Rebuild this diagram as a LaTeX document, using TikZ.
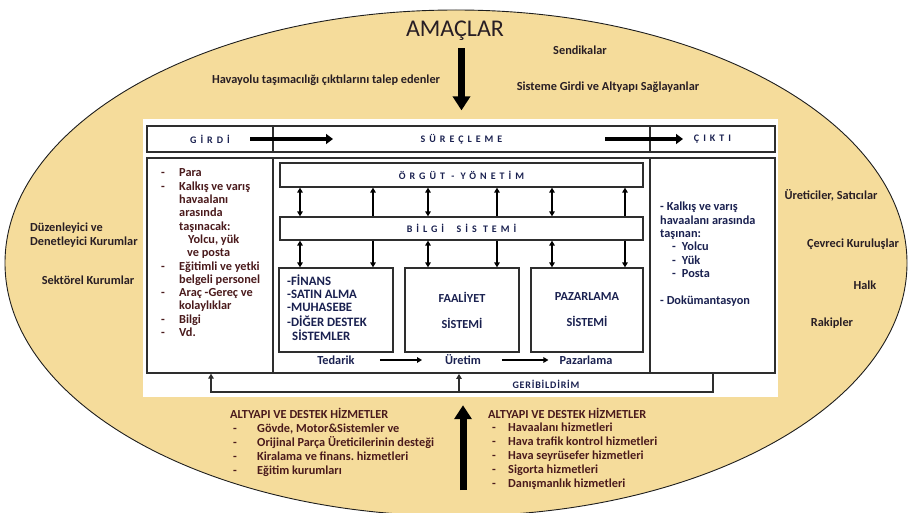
\documentclass[tikz,border=0pt]{standalone}
\usepackage{fontspec}
\setmainfont{Carlito}
\newfontfamily\trackfont{Carlito}[LetterSpace=40]
\newfontfamily\lighttrack{Carlito}[LetterSpace=8]
\usetikzlibrary{arrows.meta}

\definecolor{sand}{HTML}{F5DC9B}
\definecolor{rim}{HTML}{1E1E1E}
\definecolor{boxline}{HTML}{2E2E2E}
\definecolor{inkred}{HTML}{4A1A1C}
\definecolor{inkblue}{HTML}{1A2150}
\definecolor{inkdark}{HTML}{281E24}

\newcommand{\listfont}{\fontsize{12.3}{13.3}\selectfont\bfseries}
\newcommand{\titlefont}{\trackfont\fontsize{10}{12}\selectfont\bfseries}

\tikzset{
  ground/.style={fill=sand, draw=rim, line width=0.9pt},
  panel/.style={fill=white, draw=none, inner sep=0pt},
  cell/.style={draw=boxline, line width=1.2pt, inner sep=0pt},
  bigcell/.style={draw=boxline, line width=1.8pt, inner sep=0pt},
  unitbox/.style={draw=boxline, line width=1.2pt, fill=white, inner sep=0pt,
    minimum width=114pt, minimum height=84pt},
  plain/.style={inner sep=0pt, font=\listfont},
  flowarrow/.style={line width=3.5pt, -{Triangle[length=7pt,width=10pt]}},
  bigarrow/.style={line width=7pt, -{Triangle[length=14pt,width=17pt]}},
  linkone/.style={line width=1.4pt, -{Triangle[length=5pt,width=5.5pt]}},
  linkboth/.style={line width=1.4pt, {Triangle[length=5pt,width=5.5pt]}-{Triangle[length=5pt,width=5.5pt]}},
  stagearrow/.style={line width=1.3pt, -{Triangle[length=5pt,width=5.5pt]}},
  fbline/.style={line width=1.2pt, draw=boxline},
}

\begin{document}
\begin{tikzpicture}[x=1pt,y=-1pt]
\useasboundingbox (0,0) rectangle (908,513);

% surrounding environment
\begin{scope}
  \clip (0,0) rectangle (908,513);
  \draw[ground] (456,263) ellipse [x radius=451pt, y radius=253pt];
\end{scope}

% white system panel
\node[panel, minimum width=635pt, minimum height=278pt] (panel) at (460.5,258) {};

% input / processing / output bar
\node[cell, minimum width=126pt, minimum height=26pt, font=\titlefont, text=inkblue] (girdi) at (210,139) {GİRDİ};
\node[cell, minimum width=377pt, minimum height=26pt, font=\titlefont, text=inkblue] (surec) at (461.5,139) {SÜREÇLEME};
\node[cell, minimum width=125pt, minimum height=26pt, font=\titlefont, text=inkblue] (cikti) at (712.5,139) {ÇIKTI};
\coordinate (inA) at (250,139);
\coordinate (inB) at (333,139);
\coordinate (outA) at (605,139);
\coordinate (outB) at (683,139);
\draw[flowarrow] (inA) -- (inB);
\draw[flowarrow] (outA) -- (outB);

% three main columns
\node[cell, minimum width=126pt, minimum height=215pt] (inbox) at (210,265.5) {};
\node[bigcell, minimum width=377pt, minimum height=215pt] (procbox) at (461.5,265.5) {};
\node[cell, minimum width=125pt, minimum height=215pt] (outbox) at (712.5,265.5) {};

% management and information layers
\node[cell, minimum width=363pt, minimum height=24pt, font=\titlefont, text=inkblue] (orgut) at (461.5,175) {ÖRGÜT - YÖNETİM};
\node[cell, minimum width=363pt, minimum height=23pt, font=\titlefont, text=inkblue] (bilgi) at (461.5,228.5) {BİLGİ \ SİS TEMİ};

% functional subsystems
\node[unitbox] (fin) at (336,310) {};
\node[unitbox, align=center, font=\fontsize{12.3}{26}\selectfont\bfseries, text=inkblue] (faal) at (462,310) {FAALİYET\\SİSTEMİ};
\node[unitbox, minimum width=112pt, align=center, font=\fontsize{12.3}{26}\selectfont\bfseries, text=inkblue] (paz) at (587,310) {PAZARLAMA\\SİSTEMİ};
\node[inner sep=0pt, anchor=base west, text=inkblue, font=\fontsize{12.8}{12.8}\selectfont\bfseries] (finlist) at (287,286)
  {\begin{tabular}[t]{@{}l@{}}-FİNANS\\-SATIN ALMA\\-MUHASEBE\\-DİĞER DESTEK\\\hspace{5pt}SİSTEMLER\end{tabular}};

% links between layers
\foreach \x in {300,428,552} {
  \draw[linkboth] (orgut.south -| \x,0) -- (bilgi.north -| \x,0);
  \draw[linkboth] (bilgi.south -| \x,0) -- (fin.north -| \x,0);
}
\foreach \x in {373,497,625} {
  \draw[linkone] (bilgi.north -| \x,0) -- (orgut.south -| \x,0);
  \draw[linkone] (bilgi.south -| \x,0) -- (fin.north -| \x,0);
}

% value chain
\node[plain, text=inkblue] (tedarik) at (336,360) {Tedarik};
\node[plain, text=inkblue] (uretim) at (463,360) {Üretim};
\node[plain, text=inkblue] (pazarlama) at (586,360) {Pazarlama};
\draw[stagearrow, shorten <=25pt, shorten >=23pt] (tedarik.east) -- (uretim.west);
\draw[stagearrow, shorten <=21pt, shorten >=11pt] (uretim.east) -- (pazarlama.west);

% feedback loop
\coordinate (fbR) at (713,392);
\coordinate (fbM) at (459,392);
\coordinate (fbL) at (211,392);
\draw[fbline, -{Triangle[length=5pt,width=5.5pt]}] (outbox.south -| fbR) -- (fbR) -- (fbL) -- (inbox.south -| fbL);
\draw[fbline, -{Triangle[length=5pt,width=5.5pt]}] (fbM) -- (procbox.south -| fbM);
\node[inner sep=0pt, font=\lighttrack\fontsize{10}{12}\selectfont\bfseries, text=inkblue] (geri) at (546,384) {GERİBİLDİRİM};

% inputs column
\node[plain, anchor=base west, text=inkred] (inputs) at (161,177) {\begin{tabular}[t]{@{}p{18pt}@{}l@{}}
-& Para\\
-& Kalkış ve varış\\
 & havaalanı\\
 & arasında\\
 & taşınacak:\\
 & \hspace{9pt}Yolcu, yük\\
 & \hspace{8pt}ve posta\\
-& Eğitimli ve yetki\\
 & belgeli personel\\
-& Araç -Gereç ve\\
 & kolaylıklar\\
-& Bilgi\\
-& Vd.
\end{tabular}};

% outputs column
\node[plain, anchor=base west, text=inkblue] (outputs) at (660,211) {\begin{tabular}[t]{@{}l@{}}
- Kalkış ve varış\\
havaalanı arasında\\
taşınan:\\
\hspace{12pt}-\hspace{6pt}Yolcu\\
\hspace{12pt}-\hspace{6pt}Yük\\
\hspace{12pt}-\hspace{6pt}Posta\\[13.3pt]
- Dokümantasyon
\end{tabular}};

% goals and demand side
\node[inner sep=0pt, font=\fontsize{24}{27}\selectfont, text=inkdark] (amaclar) at (455,31) {AMAÇLAR};
\draw[bigarrow, shorten <=7pt, shorten >=15pt] (amaclar.south -| surec.center) -- (surec.north);
\node[plain, text=inkdark] (talep) at (326,80) {Havayolu taşımacılığı çıktılarını talep edenler};
\node[plain, text=inkdark] (sendika) at (580,50) {Sendikalar};
\node[plain, text=inkdark] (saglayan) at (608,87) {Sisteme Girdi ve Altyapı Sağlayanlar};

% stakeholders on the left
\node[plain, anchor=base west, text=inkdark] (duzen) at (30,232) {\begin{tabular}[t]{@{}l@{}}Düzenleyici ve\\[0.7pt]Denetleyici Kurumlar\end{tabular}};
\node[plain, text=inkdark] (sektor) at (88,280) {Sektörel Kurumlar};

% stakeholders on the right
\node[plain, text=inkdark] (uretici) at (831,195) {Üreticiler, Satıcılar};
\node[plain, text=inkdark] (cevre) at (853,244) {Çevreci Kuruluşlar};
\node[plain, text=inkdark] (halk) at (865,285) {Halk};
\node[plain, text=inkdark] (rakip) at (832,323) {Rakipler};

% infrastructure and support services
\coordinate (support) at (463,490);
\draw[bigarrow, shorten >=8pt] (support) -- (panel.south -| support);
\node[plain, anchor=base west, text=inkred, font=\fontsize{12.3}{14}\selectfont\bfseries] (destekA) at (230,418) {\begin{tabular}[t]{@{}p{27pt}@{}l@{}}
\multicolumn{2}{@{}l@{}}{ALTYAPI VE DESTEK HİZMETLER}\\
\hspace{3pt}-& Gövde, Motor\&Sistemler ve\\
\hspace{3pt}-& Orijinal Parça Üreticilerinin desteği\\
\hspace{3pt}-& Kiralama ve finans.\ hizmetleri\\
\hspace{3pt}-& Eğitim kurumları
\end{tabular}};
\node[plain, anchor=base west, text=inkred, font=\fontsize{12.3}{13.8}\selectfont\bfseries] (destekB) at (488,418) {\begin{tabular}[t]{@{}p{20pt}@{}l@{}}
\multicolumn{2}{@{}l@{}}{ALTYAPI VE DESTEK HİZMETLER}\\
\hspace{4pt}-& Havaalanı hizmetleri\\
\hspace{4pt}-& Hava trafik kontrol hizmetleri\\
\hspace{4pt}-& Hava seyrüsefer hizmetleri\\
\hspace{4pt}-& Sigorta hizmetleri\\
\hspace{4pt}-& Danışmanlık hizmetleri
\end{tabular}};
\end{tikzpicture}
\end{document}
